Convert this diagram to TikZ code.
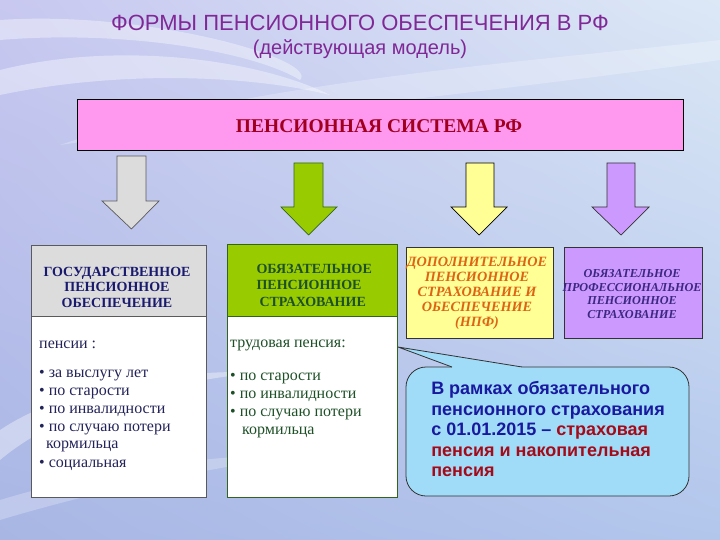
\documentclass[tikz,border=0pt]{standalone}
\usepackage{fontspec}
\setmainfont{Liberation Serif}
\newfontfamily\arial{Liberation Sans}
\usetikzlibrary{shadings}
\definecolor{bgul}{RGB}{200,200,240}
\definecolor{bgur}{RGB}{220,232,246}
\definecolor{bgll}{RGB}{168,182,228}
\definecolor{bglr}{RGB}{178,198,236}
\definecolor{titlec}{RGB}{128,40,150}
\definecolor{pinkf}{RGB}{255,153,240}
\definecolor{pinkt}{RGB}{160,0,30}
\definecolor{grayf}{RGB}{220,220,220}
\definecolor{grayd}{RGB}{90,90,90}
\definecolor{greenf}{RGB}{153,204,0}
\definecolor{greend}{RGB}{50,100,30}
\definecolor{greent}{RGB}{30,80,40}
\definecolor{navyt}{RGB}{25,25,110}
\definecolor{bodyl}{RGB}{35,35,90}
\definecolor{yellowf}{RGB}{255,255,150}
\definecolor{oranget}{RGB}{220,100,20}
\definecolor{purplef}{RGB}{204,153,255}
\definecolor{purplet}{RGB}{60,40,130}
\definecolor{calloutf}{RGB}{160,220,248}
\definecolor{calloutb}{RGB}{25,25,160}
\definecolor{calloutr}{RGB}{165,10,25}
\tikzset{
  barrow/.style={line width=0.7pt, line join=miter},
  boxbase/.style={draw, line width=0.8pt, inner sep=0pt, anchor=north west},
  bodytxt/.style={anchor=base west, inner sep=0pt, font=\fontsize{16}{18}\selectfont},
  swoosh/.style={fill=white, opacity=0.38},
}
\begin{document}
\begin{tikzpicture}[x=1pt,y=-1pt]
\useasboundingbox (0,0) rectangle (720,540);
% background
\shade[upper left=bgul, upper right=bgur, lower left=bgll, lower right=bglr] (0,0) rectangle (720,540);
\fill[swoosh] (0,70) .. controls (120,40) and (260,60) .. (330,95)
   .. controls (250,75) and (120,70) .. (0,95) -- cycle;
\fill[swoosh] (0,20) .. controls (150,10) and (320,60) .. (300,80)
   .. controls (250,50) and (120,30) .. (0,40) -- cycle;
\fill[swoosh, opacity=0.25] (60,145) .. controls (250,80) and (550,60) .. (720,40)
   -- (720,60) .. controls (550,85) and (300,110) .. (60,145) -- cycle;
\fill[swoosh] (0,430) .. controls (60,390) and (160,370) .. (260,372)
   .. controls (150,385) and (60,410) .. (0,460) -- cycle;
\fill[swoosh, opacity=0.25] (0,500) .. controls (100,470) and (200,455) .. (300,455)
   .. controls (200,470) and (100,490) .. (0,520) -- cycle;

% title
\node[font=\arial\fontsize{22}{24}\selectfont, text=titlec] (title) at (360,23) {ФОРМЫ ПЕНСИОННОГО ОБЕСПЕЧЕНИЯ В РФ};
\node[font=\arial\fontsize{20}{24}\selectfont, text=titlec] (subtitle) at (360,49) {(действующая модель)};

% top box
\node[boxbase, fill=pinkf, minimum width=606pt, minimum height=51pt] (sys) at (77,99) {};
\node[font=\bfseries\fontsize{19.5}{22}\selectfont, text=pinkt] (systxt) at (379,126) {ПЕНСИОННАЯ СИСТЕМА РФ};

% block arrows
\draw[barrow, fill=grayf, draw=grayd] (117,156) -- (146,156) -- (146,201) -- (159,201) -- (131.5,229) -- (102,201) -- (117,201) -- cycle;
\draw[barrow, fill=greenf, draw=greend] (294,163) -- (323,163) -- (323,207) -- (337,207) -- (308.5,235) -- (281,207) -- (294,207) -- cycle;
\draw[barrow, fill=yellowf, draw=black] (466,163) -- (494,163) -- (494,207) -- (507,207) -- (479,235) -- (451,207) -- (466,207) -- cycle;
\draw[barrow, fill=purplef, draw=black!80] (607,163) -- (635,163) -- (635,207) -- (649,207) -- (621,235) -- (592,207) -- (607,207) -- cycle;

% left box
\node[boxbase, draw=grayd, fill=grayf, minimum width=175pt, minimum height=71pt] (lhead) at (31,245) {};
\node[boxbase, draw=grayd, fill=white, minimum width=175pt, minimum height=181pt] (lbody) at (31,316) {};
\node[font=\bfseries\fontsize{14}{15.5}\selectfont, text=navyt, align=center] (lhtxt) at (117,287)
  {ГОСУДАРСТВЕННОЕ\\ПЕНСИОННОЕ\\ОБЕСПЕЧЕНИЕ};
\node[bodytxt, text=bodyl] (l0) at (39,348.5) {пенсии :};
\node[bodytxt, text=bodyl] (l1) at (39,377) {• за выслугу лет};
\node[bodytxt, text=bodyl] (l2) at (39,395) {• по старости};
\node[bodytxt, text=bodyl] (l3) at (39,413) {• по инвалидности};
\node[bodytxt, text=bodyl] (l4) at (39,431) {• по случаю потери};
\node[bodytxt, text=bodyl] (l5) at (46,448.5) {кормильца};
\node[bodytxt, text=bodyl] (l6) at (39,467) {• социальная};

% middle box
\node[boxbase, draw=greend, fill=greenf, minimum width=170pt, minimum height=72pt] (mhead) at (227,244) {};
\node[boxbase, draw=greend, fill=white, minimum width=170pt, minimum height=181pt] (mbody) at (227,316) {};
\node[font=\bfseries\fontsize{14}{16.5}\selectfont, text=greent, align=left, anchor=west] (mhtxt) at (253,285)
  {ОБЯЗАТЕЛЬНОЕ\\ПЕНСИОННОЕ\\\hspace{3pt}СТРАХОВАНИЕ};
\node[bodytxt, text=greent] (m0) at (230,347.5) {трудовая пенсия:};
\node[bodytxt, text=greent] (m1) at (230,380) {• по старости};
\node[bodytxt, text=greent] (m2) at (230,398) {• по инвалидности};
\node[bodytxt, text=greent] (m3) at (230,416.5) {• по случаю потери};
\node[bodytxt, text=greent] (m4) at (242,434) {кормильца};

% yellow box
\node[boxbase, draw=black!80, fill=yellowf, minimum width=147pt, minimum height=91pt] (ybox) at (406,247) {};
\node[font=\bfseries\itshape\fontsize{14.2}{15}\selectfont, text=oranget, align=center] (ytxt) at (477,293)
  {ДОПОЛНИТЕЛЬНОЕ\\ПЕНСИОННОЕ\\СТРАХОВАНИЕ И\\ОБЕСПЕЧЕНИЕ\\(НПФ)};

% purple box
\node[boxbase, draw=black!80, fill=purplef, minimum width=138pt, minimum height=91pt] (pbox) at (564,247) {};
\node[font=\bfseries\itshape\fontsize{12.2}{13.7}\selectfont, text=purplet, align=center] (ptxt) at (632,294)
  {ОБЯЗАТЕЛЬНОЕ\\ПРОФЕССИОНАЛЬНОЕ\\ПЕНСИОННОЕ\\СТРАХОВАНИЕ};

% callout
\coordinate (tip) at (398,347);
\node[draw=black!80, line width=0.8pt, fill=calloutf, rounded corners=20pt, minimum width=283pt, minimum height=129pt, inner sep=0pt] (cbox) at (547.5,431.5) {};
\coordinate (b1) at (452,367);
\coordinate (b2) at (522,367);
\fill[calloutf] (tip) -- (b1) -- ([yshift=-2pt]b1) -- ([yshift=-2pt]b2) -- (b2) -- cycle;
\draw[black!80, line width=0.8pt] (b1) -- (tip) -- (b2);
\node[font=\arial\bfseries\fontsize{18}{20.5}\selectfont, text=calloutb, align=left] (note) at (548,429)
  {В рамках обязательного\\пенсионного страхования\\с 01.01.2015 – \textcolor{calloutr}{страховая}\\\textcolor{calloutr}{пенсия и накопительная}\\\textcolor{calloutr}{пенсия}};
\end{tikzpicture}
\end{document}
